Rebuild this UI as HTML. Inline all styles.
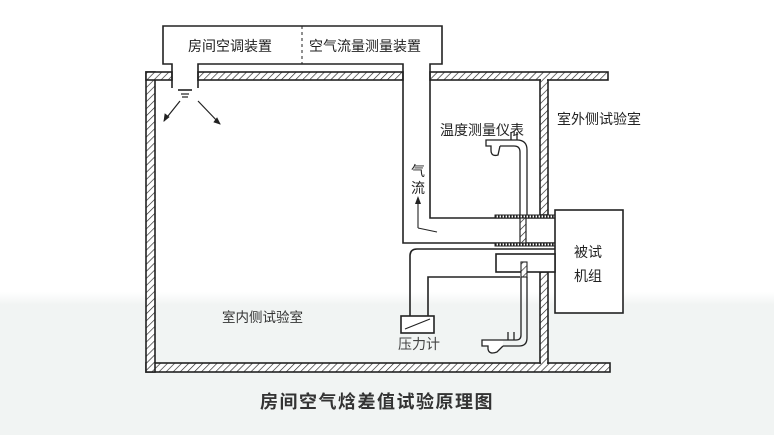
<!DOCTYPE html>
<html><head><meta charset="utf-8"><style>
html,body{margin:0;padding:0;}
body{width:774px;height:435px;overflow:hidden;background:linear-gradient(to bottom,#fff 0px,#fff 292px,#f1f4f3 305px,#f1f4f3 435px);}
svg{display:block}
text{font-family:"Liberation Sans","Noto Sans CJK SC",sans-serif;}
</style></head><body>
<svg width="774" height="435" viewBox="0 0 774 435" xmlns="http://www.w3.org/2000/svg">
<defs>
<pattern id="h" width="5" height="5" patternUnits="userSpaceOnUse" patternTransform="rotate(45)">
<rect width="5" height="5" fill="#fff"/><line x1="0" y1="0" x2="0" y2="5" stroke="#222" stroke-width="1.3"/>
</pattern>
<pattern id="d" width="3" height="3" patternUnits="userSpaceOnUse">
<rect width="3" height="3" fill="#fff"/><rect width="1.6" height="3" fill="#222"/>
</pattern>
</defs>
<g stroke="#222" stroke-width="1.6" fill="none">
<!-- walls -->
<rect x="146" y="363" width="464" height="9" fill="url(#h)"/>
<rect x="146" y="72" width="9" height="300" fill="url(#h)"/>
<rect x="146" y="72" width="26" height="8" fill="url(#h)"/>
<rect x="198" y="72" width="205" height="8" fill="url(#h)"/>
<rect x="430" y="72" width="178" height="8" fill="url(#h)"/>
<rect x="540" y="80" width="8" height="135" fill="url(#h)"/>
<rect x="540" y="272" width="8" height="91" fill="url(#h)"/>
<!-- clean inner corners -->
<rect x="147" y="364" width="7" height="7" fill="url(#h)" stroke="none"/>
<rect x="147" y="73" width="7" height="6" fill="url(#h)" stroke="none"/>
<rect x="541" y="73" width="6" height="8" fill="url(#h)" stroke="none"/>
<rect x="541" y="362" width="6" height="2" fill="url(#h)" stroke="none"/>
<!-- top box -->
<rect x="163" y="26" width="279" height="38" fill="#fff" stroke="none"/>
<rect x="173" y="62" width="24" height="26" fill="#fff" stroke="none"/>
<rect x="404" y="62" width="25" height="180" fill="#fff" stroke="none"/>
<path d="M172,88 V64 H163 V26 H442 V64 H430 V218 H555"/>
<path d="M198,88 V64 H403 V243 H555"/>
<line x1="302" y1="26" x2="302" y2="64" stroke-dasharray="3,3" stroke-width="1"/>
<!-- diffuser -->
<line x1="178" y1="90" x2="192" y2="90"/><line x1="181" y1="94" x2="189" y2="94" stroke-width="1.2"/><line x1="182" y1="97" x2="188" y2="97" stroke-width="1.2"/>
<path d="M180,101 L164,121 M198,101 L220,124" stroke-width="1.2"/>
<path d="M164,121 l1,-7 l4,3 z M220,124 l-6,-2 l3,-4 z" fill="#222" stroke-width="0.8"/>
<!-- hatched strips -->
<rect x="495" y="215" width="60" height="3" fill="url(#d)" stroke-width="1"/>
<rect x="495" y="243" width="60" height="3" fill="url(#d)" stroke-width="1"/>
<rect x="520" y="218" width="6" height="25" fill="url(#h)" stroke-width="1.2"/>
<!-- unit -->
<rect x="555" y="210" width="68" height="103" fill="#fff"/>
<rect x="496" y="254" width="59" height="18" fill="#fff"/>
<!-- pressure tubes -->
<path d="M555,249 H417 Q410,249 410,256 V316"/>
<path d="M520,277 H428 V316"/>
<rect x="401" y="316" width="33" height="17" fill="#fff"/>
<line x1="405" y1="329" x2="430" y2="319" stroke-width="1.2"/>
<!-- top temp sensor -->
<path d="M520,215 V152 Q520,146 514,146 H500 M527,215 V150 Q527,140 517,140 H500" stroke-width="1.3"/>
<path d="M511,140 V132 M517,140 V132" stroke-width="1.3"/>
<path d="M500,140 H486 V146 H491 V150 Q491,157 498,155 L500,146" stroke-width="1.3" fill="#fff"/>
<!-- bottom temp sensor -->
<rect x="521" y="262" width="6" height="15" fill="url(#h)" stroke-width="1.1"/>
<path d="M521,277 V335 Q521,340 516,340 H503 M527,277 V338 Q527,346 519,346 H503" stroke-width="1.3"/>
<path d="M508,340 V332 M514,340 V332" stroke-width="1.3"/>
<path d="M503,340 H482 V346 H488 V349 Q489,355 497,352 L503,346" stroke-width="1.3" fill="#fff"/>
<!-- airflow arrow -->
<path d="M418,228 V202 M418,228 L437,232" stroke-width="1.1"/>
<path d="M418,196 l-3,8 h6 z" fill="#222" stroke="none"/>
</g>
<g fill="#222" font-size="14">
<text x="188" y="51">房间空调装置</text>
<text x="309" y="51">空气流量测量装置</text>
<text x="440" y="135">温度测量仪表</text>
<text x="557" y="124">室外侧试验室</text>
<text x="411" y="176">气</text>
<text x="411" y="193">流</text>
<text x="574" y="257">被试</text>
<text x="574" y="281">机组</text>
<text x="222" y="322" fill="#333" font-size="13.5">室内侧试验室</text>
<text x="398" y="349" fill="#444">压力计</text>
<text x="260" y="408" font-size="18" font-weight="bold" fill="#333" letter-spacing="1.5">房间空气焓差值试验原理图</text>
</g>
</svg>
</body></html>
